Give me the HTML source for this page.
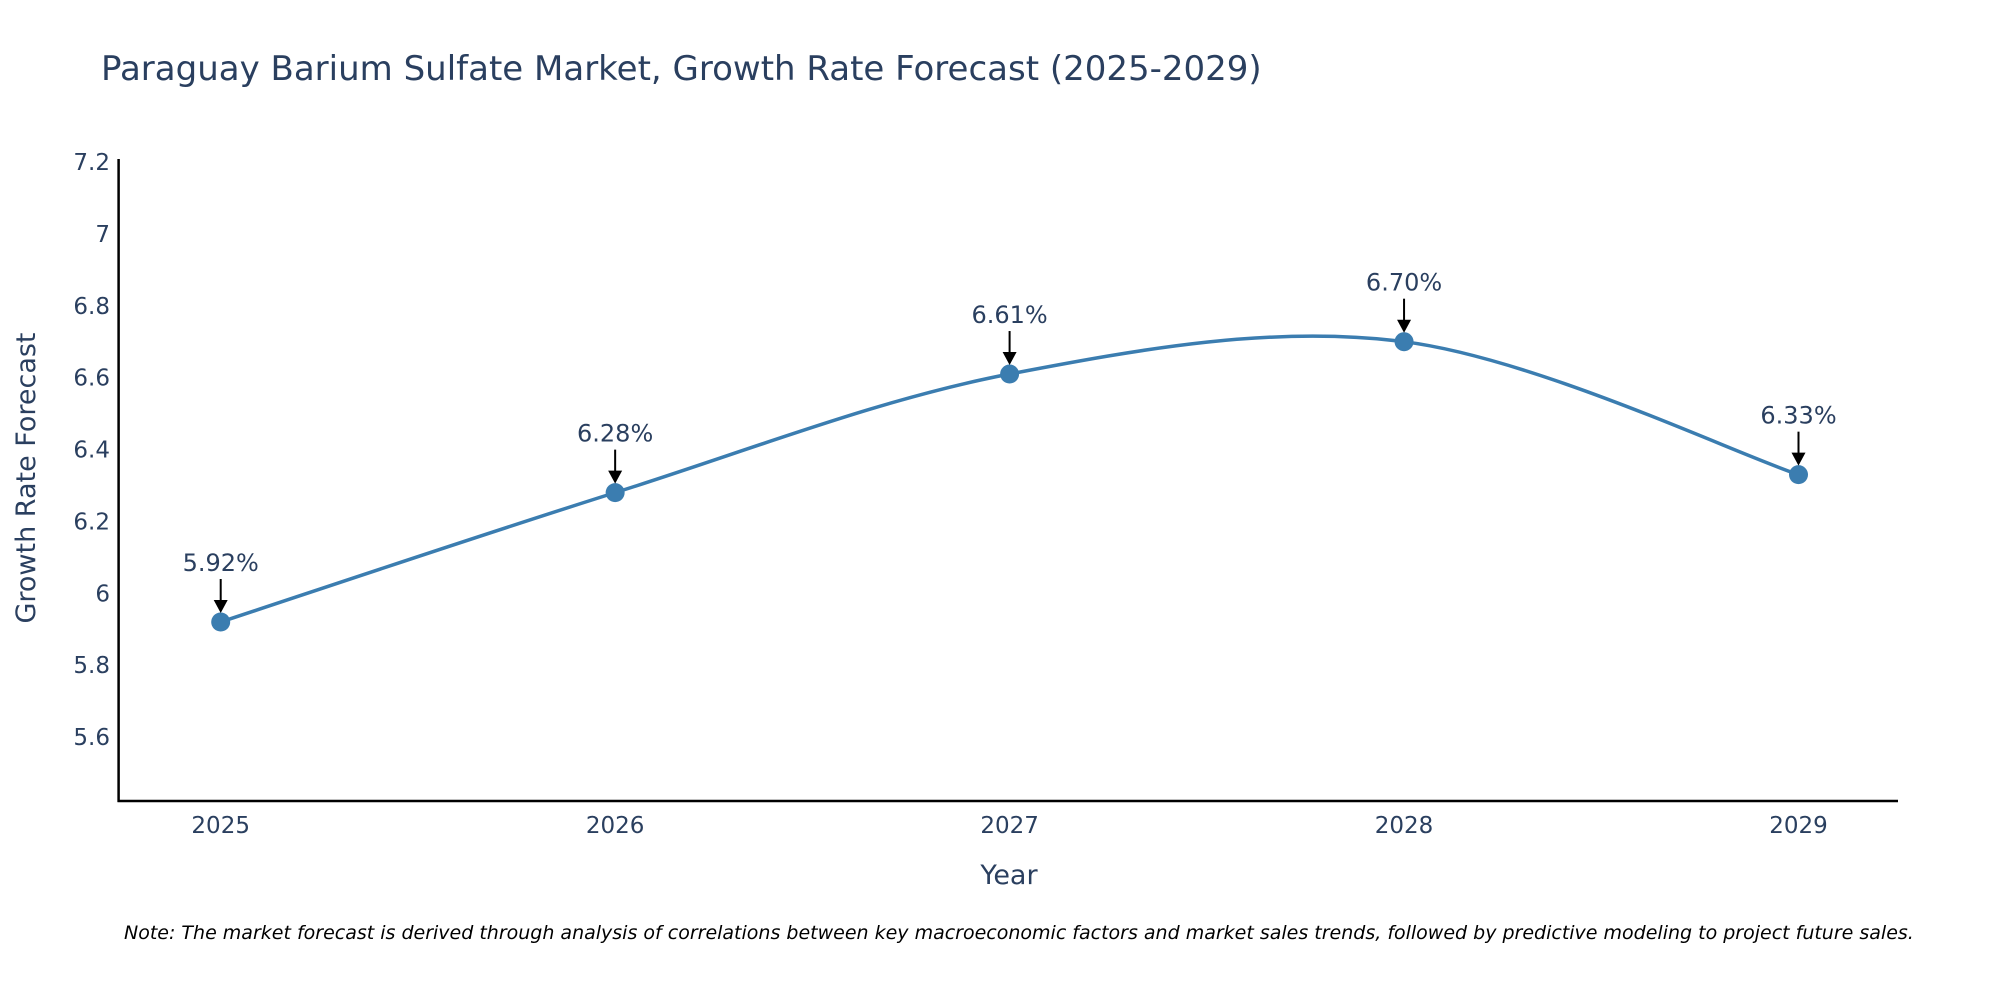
<!DOCTYPE html>
<html><head><meta charset="utf-8"><style>
body{margin:0;background:#fff;}
svg text{font-family:"DejaVu Sans","Liberation Sans",sans-serif;fill:#2a3f5f;}
</style></head><body>
<svg width="2000" height="1000" xmlns="http://www.w3.org/2000/svg" id="chart">
<text x="101" y="80" font-size="34">Paraguay Barium Sulfate Market, Growth Rate Forecast (2025-2029)</text>
<g id="yticks"></g>
<g id="xticks"></g>
<line x1="118.6" y1="159" x2="118.6" y2="802" stroke="#000" stroke-width="2.5"/>
<line x1="117.5" y1="801" x2="1898" y2="801" stroke="#000" stroke-width="2.5"/>
<g id="series"></g>
<g id="annos"></g>
<text transform="translate(35,478) rotate(-90)" text-anchor="middle" font-size="27">Growth Rate Forecast</text>
<text x="1009" y="884" text-anchor="middle" font-size="27">Year</text>
<text x="124" y="939" font-size="19" font-style="italic" style="fill:#000">Note: The market forecast is derived through analysis of correlations between key macroeconomic factors and market sales trends, followed by predictive modeling to project future sales.</text>
</svg>
<script>
const years = ["2025","2026","2027","2028","2029"];
const growth = [5.92, 6.28, 6.61, 6.70, 6.33];
const yTickValues = [5.6, 5.8, 6, 6.2, 6.4, 6.6, 6.8, 7, 7.2];
const yTickLabels = ["5.6","5.8","6","6.2","6.4","6.6","6.8","7","7.2"];

const NS="http://www.w3.org/2000/svg";
function xs(i){return 220.7+i*394.45;}
function ys(v){return 162+(7.2-v)/1.6*575;}
function mk(tag,attrs,parent){const e=document.createElementNS(NS,tag);for(const k in attrs)e.setAttribute(k,attrs[k]);parent.appendChild(e);return e;}

const yt=document.getElementById('yticks');
yTickValues.forEach((v,i)=>{
  const t=mk('text',{x:110,y:ys(v)+8,'text-anchor':'end','font-size':23},yt);
  
  
  t.textContent=yTickLabels[i];
});
const xt=document.getElementById('xticks');
years.forEach((y,i)=>{
  const t=mk('text',{x:xs(i),y:833,'text-anchor':'middle','font-size':23},xt);
  
  
  t.textContent=y;
});

const pts=growth.map((v,i)=>[xs(i),ys(v)]);
let d=`M${pts[0][0]},${pts[0][1]}`;
const tn=0.5;
for(let i=0;i<pts.length-1;i++){
  const p0=pts[Math.max(0,i-1)],p1=pts[i],p2=pts[i+1],p3=pts[Math.min(pts.length-1,i+2)];
  const c1=[p1[0]+(p2[0]-p0[0])*tn/3,p1[1]+(p2[1]-p0[1])*tn/3];
  const c2=[p2[0]-(p3[0]-p1[0])*tn/3,p2[1]-(p3[1]-p1[1])*tn/3];
  d+=` C${c1[0]},${c1[1]} ${c2[0]},${c2[1]} ${p2[0]},${p2[1]}`;
}
const s=document.getElementById('series');
const line=mk('path',{d:d,fill:'none',stroke:'#3b7db0','stroke-width':3.5},s);


pts.forEach((p,i)=>{
  const c=mk('circle',{cx:p[0],cy:p[1],r:9.5,fill:'#3b7db0'},s);
  
  
});
const a=document.getElementById('annos');
pts.forEach((p,i)=>{
  const g=mk('g',{},a);
  
  
  mk('line',{x1:p[0],y1:p[1]-43,x2:p[0],y2:p[1]-20,stroke:'#000','stroke-width':2},g);
  mk('path',{d:`M${p[0]-7},${p[1]-22} L${p[0]+7},${p[1]-22} L${p[0]},${p[1]-9} Z`,fill:'#000'},g);
  const t=mk('text',{x:p[0],y:p[1]-51,'text-anchor':'middle','font-size':24},g);
  t.textContent=growth[i].toFixed(2)+'%';
});
</script>
</body></html>
